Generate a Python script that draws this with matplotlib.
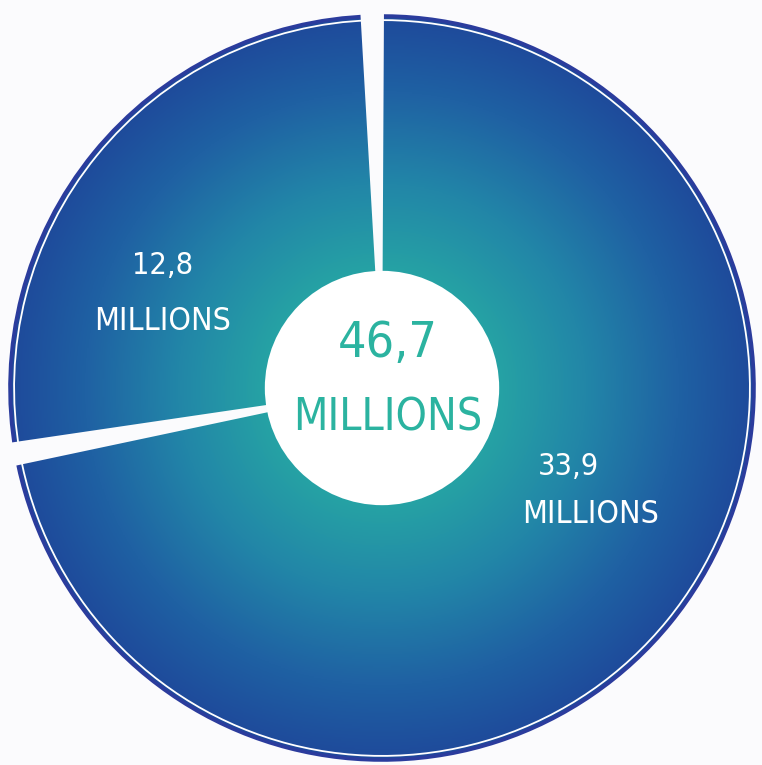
import matplotlib

matplotlib.use("Agg")

import matplotlib.pyplot as plt
import numpy as np
from matplotlib.colors import LinearSegmentedColormap
from matplotlib.patches import Arc, Circle, Wedge

# data
values = [12.8, 33.9]
value_labels = ["12,8", "33,9"]
total_label = "46,7"
unit = "MILLIONS"

BG = "#fbfbfd"
RING = "#2b3c9d"
CENTER_TEXT = "#2bb3a0"
FONT = dict(family=["DejaVu Sans"], fontstretch="condensed")

fig = plt.figure(figsize=(7.62, 7.65), dpi=100, facecolor=BG)
ax = fig.add_axes([0, 0, 1, 1])
ax.set_facecolor(BG)

wedges, _ = ax.pie(values, startangle=91.5, counterclock=True, radius=1.0,
                   wedgeprops=dict(facecolor="none", edgecolor="none"))

# radial gradient, clipped to each slice
grad = LinearSegmentedColormap.from_list(
    "grad", [(0, "#2ab3a8"), (0.3, "#26a4a4"), (0.55, "#2286a8"),
             (0.8, "#1f61a3"), (1.0, "#1e4a9b")])
xx, yy = np.meshgrid(np.linspace(-1, 1, 600), np.linspace(-1, 1, 600))
rr = np.clip(np.hypot(xx, yy), 0, 1)
for w in wedges:
    im = ax.imshow(rr, cmap=grad, vmin=0, vmax=1, extent=[-1, 1, -1, 1],
                   origin="lower", zorder=1, interpolation="bilinear")
    im.set_clip_path(w)

    # outer border: dark ring + thin white inner line
    ax.add_patch(Arc((0, 0), 2.0, 2.0, theta1=w.theta1, theta2=w.theta2,
                     color=RING, lw=2.6, zorder=2))
    ax.add_patch(Arc((0, 0), 1.978, 1.978, theta1=w.theta1, theta2=w.theta2,
                     color="white", lw=1.3, zorder=2))

# white gaps between slices
for w in wedges:
    ax.add_patch(Wedge((0, 0), 1.05, w.theta1 - 1.8, w.theta1 + 1.8,
                       facecolor=BG, edgecolor="none", zorder=3))

# centre circle with total
ax.add_patch(Circle((0, 0), 0.315, facecolor="white", edgecolor="none", zorder=4))
ax.text(0.015, 0.12, total_label, ha="center", va="center", fontsize=36,
        color=CENTER_TEXT, zorder=5, **FONT)
ax.text(0.015, -0.08, unit, ha="center", va="center", fontsize=32,
        color=CENTER_TEXT, zorder=5, **FONT)

# slice labels
ax.text(-0.59, 0.33, value_labels[0], ha="center", va="center", fontsize=22,
        color="white", zorder=5, **FONT)
ax.text(-0.59, 0.18, unit, ha="center", va="center", fontsize=23,
        color="white", zorder=5, **FONT)
ax.text(0.5, -0.21, value_labels[1], ha="center", va="center", fontsize=22,
        color="white", zorder=5, **FONT)
ax.text(0.56, -0.34, unit, ha="center", va="center", fontsize=23,
        color="white", zorder=5, **FONT)

ax.set_aspect("equal")
ax.set_xlim(-382 / 372, 380 / 372)
ax.set_ylim(-377 / 372, 388 / 372)
ax.axis("off")

fig.savefig("out.png", dpi=100, facecolor=BG)
